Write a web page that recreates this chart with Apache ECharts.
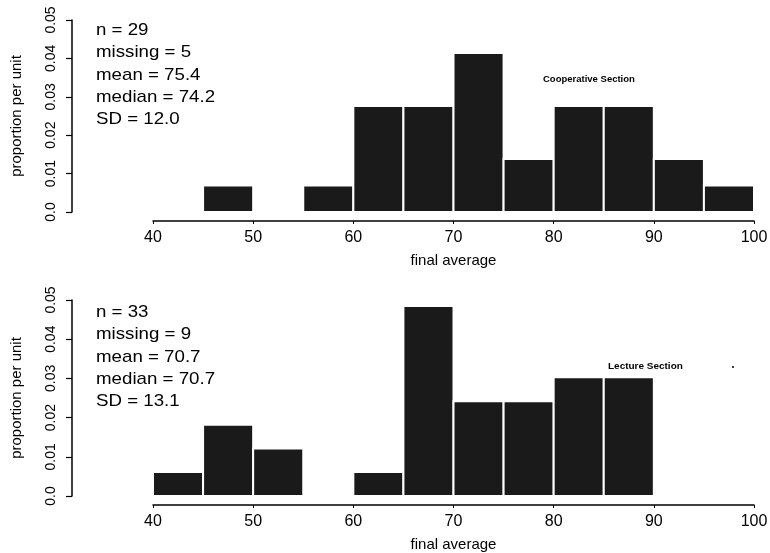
<!DOCTYPE html>
<html>
<head>
<meta charset="utf-8">
<script src="https://cdn.jsdelivr.net/npm/echarts@6/dist/echarts.min.js"></script>
<style>
  html, body { margin: 0; padding: 0; background: #fff; }
  #main { width: 770px; height: 553px; }
</style>
</head>
<body>
<div id="main"></div>
<script>
// histogram bins (5 points wide) from 40 to 100
var binStarts = [40, 45, 50, 55, 60, 65, 70, 75, 80, 85, 90, 95];
var binWidth = 5;
// proportion per unit (count / (n * 5))
var coopValues    = [0, 0.0069, 0, 0.0069, 0.0276, 0.0276, 0.0414, 0.0138, 0.0276, 0.0276, 0.0138, 0.0069];
var lectureValues = [0.0061, 0.0182, 0.0121, 0, 0.0061, 0.0485, 0.0242, 0.0242, 0.0303, 0.0303, 0, 0];
var coopStats    = ['n = 29', 'missing = 5', 'mean = 75.4', 'median = 74.2', 'SD = 12.0'];
var lectureStats = ['n = 33', 'missing = 9', 'mean = 70.7', 'median = 70.7', 'SD = 13.1'];

var FONT = 'Liberation Sans, Arial, sans-serif';

function histItem(values) {
    return function (params, api) {
        var i = params.dataIndex;
        var v = values[i];
        if (!v) return null;
        var p0 = api.coord([binStarts[i], 0]);
        var p1 = api.coord([binStarts[i] + binWidth, v]);
        return {
            type: 'rect',
            shape: { x: p0[0], y: p1[1], width: p1[0] - p0[0], height: p0[1] - p1[1] },
            style: { fill: '#1a1a1a', stroke: '#ffffff', lineWidth: 2 }
        };
    };
}

function makeX(idx) {
    return {
        type: 'value', gridIndex: idx, min: 40, max: 100, interval: 10,
        offset: 9,
        name: 'final average', nameLocation: 'middle', nameGap: 32,
        nameTextStyle: { color: '#000', fontSize: 15, fontFamily: FONT },
        axisLine: { show: true, onZero: false, lineStyle: { color: '#000', width: 1.5 } },
        axisTick: { show: true, length: 3, lineStyle: { color: '#000' } },
        axisLabel: { color: '#000', fontSize: 16, fontFamily: FONT, margin: 9 },
        splitLine: { show: false }
    };
}

function makeY(idx) {
    return {
        type: 'value', gridIndex: idx, min: 0, max: 0.05, interval: 0.01,
        offset: 81,
        name: 'proportion per unit', nameLocation: 'middle', nameGap: 48,
        nameTextStyle: { color: '#000', fontSize: 15, fontFamily: FONT },
        axisLine: { show: true, onZero: false, lineStyle: { color: '#000', width: 1.5 } },
        axisTick: { show: true, length: 6, lineStyle: { color: '#000', width: 1.2 } },
        axisLabel: {
            color: '#000', fontSize: 14, fontFamily: FONT, rotate: 90, margin: 14,
            formatter: function (v) { return v === 0 ? '0.0' : v.toFixed(2); }
        },
        splitLine: { show: false }
    };
}

function statsText(lines, top) {
    return lines.map(function (s, k) {
        return {
            type: 'text', x: 96, y: top + k * 22.3, scaleX: 1.1,
            style: { text: s, fontSize: 17, fontFamily: FONT, fill: '#000' }
        };
    });
}

var chart = echarts.init(document.getElementById('main'));
var option = {
    backgroundColor: '#fff',
    animation: false,
    grid: [
        { left: 153, right: 16, top: 20, height: 192, outerBoundsMode: 'none', containLabel: false },
        { left: 153, right: 16, top: 300, height: 196, outerBoundsMode: 'none', containLabel: false }
    ],
    xAxis: [makeX(0), makeX(1)],
    yAxis: [makeY(0), makeY(1)],
    series: [
        {
            type: 'custom', xAxisIndex: 0, yAxisIndex: 0,
            renderItem: histItem(coopValues),
            data: coopValues.map(function (v, i) { return [binStarts[i], v]; })
        },
        {
            type: 'custom', xAxisIndex: 1, yAxisIndex: 1,
            renderItem: histItem(lectureValues),
            data: lectureValues.map(function (v, i) { return [binStarts[i], v]; })
        }
    ],
    graphic: statsText(coopStats, 22).concat(statsText(lectureStats, 304)).concat([
        { type: 'text', x: 543, y: 74,
          style: { text: 'Cooperative Section', fontSize: 9.5, fontWeight: 'bold', fontFamily: FONT, fill: '#000' } },
        { type: 'text', x: 608, y: 361, scaleX: 1.05,
          style: { text: 'Lecture Section', fontSize: 9.5, fontWeight: 'bold', fontFamily: FONT, fill: '#000' } },
        { type: 'circle', shape: { cx: 733, cy: 367, r: 1 }, style: { fill: '#000' } }
    ])
};
chart.setOption(option);
</script>
</body>
</html>
